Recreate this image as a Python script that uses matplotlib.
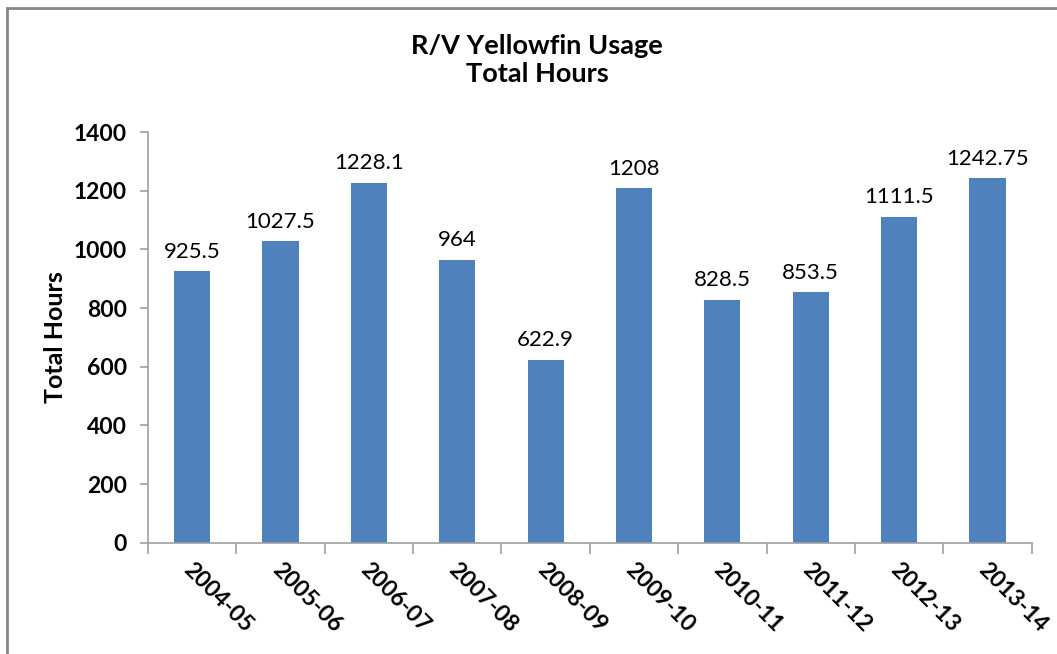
import matplotlib
matplotlib.use("Agg")
import matplotlib.pyplot as plt
from matplotlib.patches import Rectangle

categories = ["2004-05", "2005-06", "2006-07", "2007-08", "2008-09",
              "2009-10", "2010-11", "2011-12", "2012-13", "2013-14"]
hours = [925.5, 1027.5, 1228.1, 964, 622.9, 1208, 828.5, 853.5, 1111.5, 1242.75]
labels = ["925.5", "1027.5", "1228.1", "964", "622.9", "1208", "828.5", "853.5", "1111.5", "1242.75"]
yticks = [0, 200, 400, 600, 800, 1000, 1200, 1400]

plt.rcParams['font.family'] = ['Lato', 'DejaVu Sans']

fig = plt.figure(figsize=(10.57, 6.54), dpi=100)
ax = fig.add_axes([0.140, 0.170, 0.836, 0.628])

x = list(range(len(categories)))
ax.bar(x, hours, width=0.41, color="#4F81BD", zorder=2)
ax.set_xlim(-0.5, len(categories) - 0.5)
ax.set_ylim(0, 1400)

for xi, v, lab in zip(x, hours, labels):
    ax.annotate(lab, (xi, v), xytext=(0, 7), textcoords="offset points",
                ha="center", va="bottom", fontsize=16)

ax.set_yticks(yticks)
ax.set_yticklabels([str(t) for t in yticks], fontsize=16.5, fontweight="bold")
ax.set_xticks([i - 0.5 for i in range(len(categories) + 1)])
ax.set_xticklabels([])
ax.tick_params(axis="x", direction="out", length=8, color="#A0A0A0", width=1.2)
ax.tick_params(axis="y", direction="out", length=6, color="#A0A0A0", width=1.2, pad=9)

for xi, c in zip(x, categories):
    ax.text(xi - 0.06, -80, c, rotation=-45, rotation_mode="anchor",
            ha="left", va="center", fontsize=16.5, fontweight="bold")

for s in ["top", "right"]:
    ax.spines[s].set_visible(False)
for s in ["left", "bottom"]:
    ax.spines[s].set_color("#A0A0A0")
    ax.spines[s].set_linewidth(1.2)

ax.set_ylabel("Total Hours", fontsize=18, fontweight="bold")
ax.yaxis.set_label_coords((67 - 148) / (0.836 * 1057), 0.5)

fig.text(0.508, 0.909, "R/V Yellowfin Usage\nTotal Hours", ha="center", va="center",
         fontsize=19.5, fontweight="bold", linespacing=1.2)

# figure border (top & left visible)
fig.patches.append(Rectangle((6.5 / 1057, -0.1), 1.2, 1.1 - 7.5 / 654,
                             transform=fig.transFigure, fill=False,
                             edgecolor="#878787", linewidth=2))

fig.savefig("out.png", dpi=100)
